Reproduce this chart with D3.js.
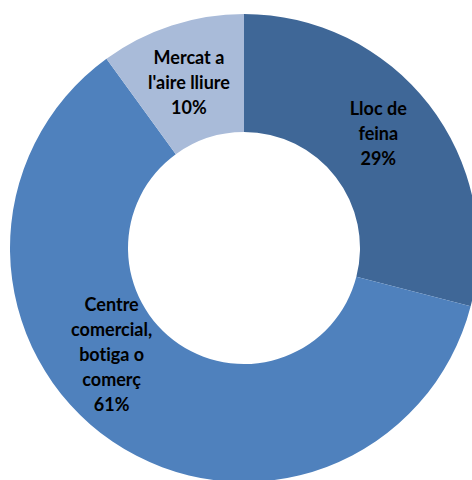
<!DOCTYPE html>
<html>
<head>
<meta charset="utf-8">
<script src="https://cdn.jsdelivr.net/npm/d3@7"></script>
<style>
  html, body { margin: 0; padding: 0; background: #fff; }
  svg { display: block; }
</style>
</head>
<body>
<svg id="chart" width="472" height="480"></svg>
<script>
// Slice data, clockwise from 12 o'clock
let categories = ["Lloc de feina", "Centre comercial, botiga o comerç", "Mercat a l'aire lliure"]
let values = [29, 61, 10]
let labelLines = [
  ["Lloc de", "feina"],
  ["Centre", "comercial,", "botiga o", "comerç"],
  ["Mercat a", "l'aire lliure"]
]
let colours = ["#3F6797", "#4F81BD", "#A9BBD9"]

let width = 472, height = 480
let cx = 244, cy = 248
let outerR = 234, innerR = 116
let lineHeight = 25

let svg = d3.select("#chart")
let g = svg.append("g").attr("transform", `translate(${cx}, ${cy})`)

let colour = d3.scaleOrdinal().domain(categories).range(colours)

let pie = d3.pie()
  .sort(null)
  .value(d => d.value)

let data = categories.map((c, i) => ({ name: c, value: values[i], lines: labelLines[i] }))
let arcs = pie(data)

let arc = d3.arc().innerRadius(innerR).outerRadius(outerR)

g.selectAll("path.slice")
  .data(arcs)
  .join("path")
  .attr("class", "slice")
  .attr("d", arc)
  .attr("fill", d => colour(d.data.name))

// Labels at the ring's middle radius, nudged like the original
let labelArc = d3.arc().innerRadius(175).outerRadius(175)
let offsets = [[-4, -7], [-34, -38], [-1, 1]]

let labels = g.selectAll("text.label")
  .data(arcs)
  .join("text")
  .attr("class", "label")
  .attr("text-anchor", "middle")
  .style("font-family", "Lato, 'Open Sans', sans-serif")
  .style("font-weight", "bold")
  .style("font-size", "18px")
  .style("font-variant-ligatures", "none")
  .attr("fill", "#000")

labels.each(function(d, i) {
  let [x, y] = labelArc.centroid(d)
  x += offsets[i][0]
  y += offsets[i][1]
  let lines = d.data.lines.concat([`${d.data.value}%`])
  let top = y - (lines.length - 1) * lineHeight / 2
  d3.select(this).selectAll("tspan")
    .data(lines)
    .join("tspan")
    .attr("x", x)
    .attr("y", (l, j) => top + j * lineHeight)
    .attr("dy", "0.35em")
    .text(l => l)
})
</script>
</body>
</html>
